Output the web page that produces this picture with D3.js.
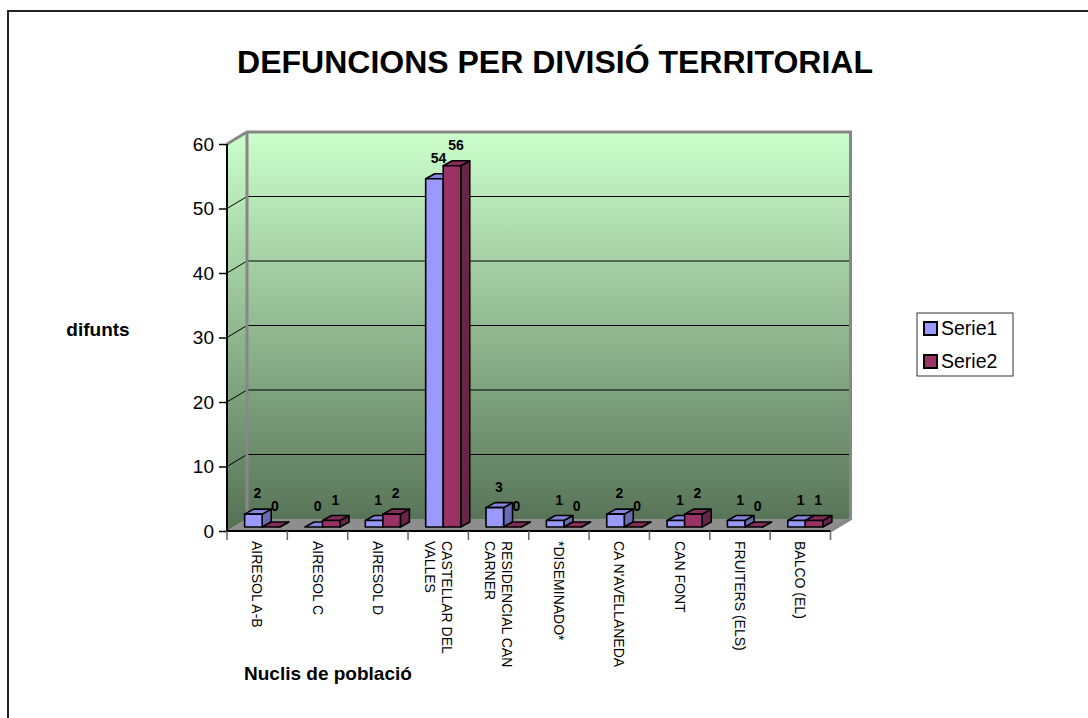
<!DOCTYPE html>
<html>
<head>
<meta charset="utf-8">
<script src="https://cdn.jsdelivr.net/npm/d3@7"></script>
<style>
  body { margin: 0; background: #fff; }
  text { font-family: Arial, "Liberation Sans", sans-serif; }
</style>
</head>
<body>
<div id="container"></div>
<script>
/* DATA */
const categories = ["AIRESOL A-B", "AIRESOL C", "AIRESOL D", "CASTELLAR DEL VALLES", "RESIDENCIAL CAN CARNER",
  "*DISEMINADO*", "CA N'AVELLANEDA", "CAN FONT", "FRUITERS (ELS)", "BALCO (EL)"]
const tickLabels = ["AIRESOL A-B", "AIRESOL C", "AIRESOL D", "CASTELLAR DEL\nVALLES", "RESIDENCIAL CAN\nCARNER",
  "*DISEMINADO*", "CA N'AVELLANEDA", "CAN FONT", "FRUITERS (ELS)", "BALCO (EL)"]
const seriesNames = ["Serie1", "Serie2"]
const serie1 = [2, 0, 1, 54, 3, 1, 2, 1, 1, 1]
const serie2 = [0, 1, 2, 56, 0, 0, 0, 2, 0, 1]
const yTicks = [0, 10, 20, 30, 40, 50, 60]

/* CONSTANTS AND GLOBALS */
const width = 1088, height = 718
const depth = { x: 20, y: -12 }       // floor / wall depth
const barShift = { x: 5, y: -4 }      // where bars stand on the floor
const barDepth = { x: 9, y: -5 }
const colors = {
  Serie1: { front: "#9999ff", top: "#8585e0", side: "#6b6bb5" },
  Serie2: { front: "#993366", top: "#852c58", side: "#6b2449" }
}

const svg = d3.select("#container")
  .append("svg")
  .attr("width", width)
  .attr("height", height)

// outer frame (runs off the page on the right and bottom)
svg.append("rect")
  .attr("x", 8).attr("y", 11)
  .attr("width", 1200).attr("height", 800)
  .attr("fill", "none")
  .attr("stroke", "#222")
  .attr("stroke-width", 2)

// + SCALES
const xScale = d3.scaleBand()
  .domain(categories)
  .range([227, 830.5])

const xSub = d3.scaleBand()
  .domain(seriesNames)
  .range([0, xScale.bandwidth()])
  .paddingOuter(0.72)

const yScale = d3.scaleLinear()
  .domain([0, 60])
  .range([531, 144])

const x0 = xScale.range()[0], x1 = xScale.range()[1]
const yTop = yScale(60), yBot = yScale(0)

// wall gradient
const defs = svg.append("defs")
const grad = defs.append("linearGradient")
  .attr("id", "wall")
  .attr("gradientUnits", "userSpaceOnUse")
  .attr("x1", 0).attr("x2", 0)
  .attr("y1", yTop + depth.y).attr("y2", yBot)
grad.append("stop").attr("offset", 0).attr("stop-color", "#ccffcc")
grad.append("stop").attr("offset", 1).attr("stop-color", "#557055")

const poly = pts => "M" + pts.map(p => p.join(",")).join("L") + "Z"

// back wall
svg.append("path")
  .attr("d", poly([[x0 + depth.x, yTop + depth.y], [x1 + depth.x, yTop + depth.y],
    [x1 + depth.x, yBot + depth.y], [x0 + depth.x, yBot + depth.y]]))
  .attr("fill", "url(#wall)")

// side wall
svg.append("path")
  .attr("d", poly([[x0, yTop], [x0 + depth.x, yTop + depth.y], [x0 + depth.x, yBot + depth.y], [x0, yBot]]))
  .attr("fill", "url(#wall)")

// floor
svg.append("path")
  .attr("d", poly([[x0, yBot], [x1, yBot], [x1 + depth.x, yBot + depth.y], [x0 + depth.x, yBot + depth.y]]))
  .attr("fill", "#8e8e8e")

// gridlines
const grid = svg.append("g").attr("stroke", "#000").attr("stroke-width", 1)
yTicks.filter(t => t > 0 && t < 60).forEach(t => {
  const y = yScale(t)
  grid.append("path")
    .attr("fill", "none")
    .attr("d", `M${x0},${y}L${x0 + depth.x},${y + depth.y}L${x1 + depth.x},${y + depth.y}`)
})

// wall borders
svg.append("path")
  .attr("fill", "none")
  .attr("stroke", "#878787")
  .attr("stroke-width", 3)
  .attr("d", `M${x0},${yTop}L${x0 + depth.x},${yTop + depth.y}L${x1 + depth.x},${yTop + depth.y}L${x1 + depth.x},${yBot + depth.y}L${x1},${yBot}` +
    `M${x0 + depth.x},${yTop + depth.y}L${x0 + depth.x},${yBot + depth.y}`)

// + BARS
const bars = []
categories.forEach((c, i) => {
  seriesNames.forEach((s, j) => {
    bars.push({ cat: c, series: s, value: [serie1, serie2][j][i] })
  })
})

const barG = svg.selectAll(".bar")
  .data(bars)
  .join("g")
  .attr("class", "bar")
  .attr("stroke", "#000")
  .attr("stroke-width", 1.6)
  .attr("stroke-linejoin", "round")

barG.each(function (d) {
  const g = d3.select(this)
  const bx = xScale(d.cat) + xSub(d.series) + barShift.x
  const bw = xSub.bandwidth()
  const yb = yScale(0) + barShift.y
  const yt = yScale(d.value) + barShift.y
  const c = colors[d.series]
  g.append("path")
    .attr("fill", c.side)
    .attr("d", poly([[bx + bw, yt], [bx + bw + barDepth.x, yt + barDepth.y], [bx + bw + barDepth.x, yb + barDepth.y], [bx + bw, yb]]))
  g.append("path")
    .attr("fill", c.top)
    .attr("d", poly([[bx, yt], [bx + bw, yt], [bx + bw + barDepth.x, yt + barDepth.y], [bx + barDepth.x, yt + barDepth.y]]))
  g.append("rect")
    .attr("fill", c.front)
    .attr("x", bx).attr("y", yt)
    .attr("width", bw).attr("height", yb - yt)
})

// data labels
svg.selectAll(".dlabel")
  .data(bars)
  .join("text")
  .attr("class", "dlabel")
  .attr("x", d => xScale(d.cat) + xSub(d.series) + xSub.bandwidth() / 2 + barShift.x + 4)
  .attr("y", d => yScale(d.value) + barShift.y - 16)
  .attr("text-anchor", "middle")
  .attr("font-size", 14)
  .attr("font-weight", "bold")
  .text(d => d.value)

// BUILD AND CALL AXES
const yAxis = d3.axisLeft(yScale)
  .tickValues(yTicks)
  .tickSize(8)
  .tickPadding(5)

const yAxisGroup = svg.append("g")
  .attr("class", "yAxis")
  .attr("transform", `translate(${x0}, 0)`)
  .call(yAxis)
yAxisGroup.select(".domain").attr("stroke", "#000").attr("stroke-width", 2).attr("d", `M0,${yTop}V${yBot}`)
yAxisGroup.selectAll(".tick line").attr("stroke", "#000").attr("stroke-width", 1.5)
yAxisGroup.selectAll(".tick text")
  .attr("font-size", 19)
  .attr("font-family", "Arial, 'Liberation Sans', sans-serif")
  .attr("fill", "#000")

// x axis line and ticks at band edges
const xAxisGroup = svg.append("g").attr("class", "xAxis")
xAxisGroup.append("line")
  .attr("x1", x0).attr("x2", x1)
  .attr("y1", yBot).attr("y2", yBot)
  .attr("stroke", "#000").attr("stroke-width", 2)
xAxisGroup.selectAll(".xtick")
  .data(categories.map(c => xScale(c)).concat([x1]))
  .join("line")
  .attr("class", "xtick")
  .attr("x1", d => d).attr("x2", d => d)
  .attr("y1", yBot).attr("y2", yBot + 9)
  .attr("stroke", "#666").attr("stroke-width", 1.5)

const xLabels = xAxisGroup.selectAll(".xlabel")
  .data(categories)
  .join("text")
  .attr("class", "xlabel")
  .attr("transform", d => `translate(${xScale(d) + xScale.bandwidth() / 2}, ${yBot + 10}) rotate(90)`)
  .attr("font-size", 14)
  .attr("text-anchor", "start")

xLabels.each(function (d, i) {
  const lines = tickLabels[i].split("\n")
  const lh = 17
  d3.select(this).selectAll("tspan")
    .data(lines)
    .join("tspan")
    .attr("x", 0)
    .attr("y", (l, k) => (k - (lines.length - 1) / 2) * lh)
    .attr("dy", "0.35em")
    .text(l => l)
})

// Titles
svg.append("text")
  .attr("x", 555)
  .attr("y", 73)
  .attr("text-anchor", "middle")
  .attr("font-size", 32)
  .attr("font-weight", "bold")
  .text("DEFUNCIONS PER DIVISIÓ TERRITORIAL")

svg.append("text")
  .attr("x", 98)
  .attr("y", 336)
  .attr("text-anchor", "middle")
  .attr("font-size", 19)
  .attr("font-weight", "bold")
  .text("difunts")

svg.append("text")
  .attr("x", 244)
  .attr("y", 680)
  .attr("font-size", 19)
  .attr("font-weight", "bold")
  .text("Nuclis de població")

// LEGEND
const legend = svg.append("g").attr("class", "legend")
legend.append("rect")
  .attr("x", 917).attr("y", 313)
  .attr("width", 96).attr("height", 63)
  .attr("fill", "#fff")
  .attr("stroke", "#333").attr("stroke-width", 1)

const legItem = legend.selectAll(".item")
  .data(seriesNames)
  .join("g")
  .attr("class", "item")
  .attr("transform", (d, i) => `translate(924, ${322 + i * 33})`)
legItem.append("rect")
  .attr("width", 13).attr("height", 13)
  .attr("fill", d => colors[d].front)
  .attr("stroke", "#000").attr("stroke-width", 2)
legItem.append("text")
  .attr("x", 17).attr("y", 6.5)
  .attr("dy", "0.35em")
  .attr("font-size", 19.5)
  .text(d => d)
</script>
</body>
</html>
